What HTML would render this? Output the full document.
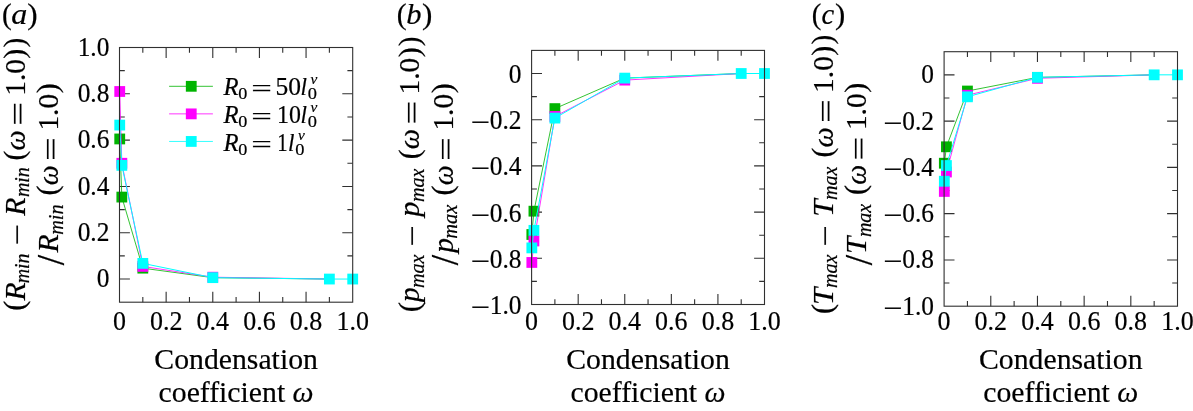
<!DOCTYPE html>
<html><head><meta charset="utf-8"><title>Figure</title>
<style>
html,body{margin:0;padding:0;background:#fff;}
body{width:1193px;height:411px;overflow:hidden;}
svg{display:block;}
text{font-family:"Liberation Serif",serif;fill:#000;stroke:#000;stroke-width:0.2px;}
.tk{font-size:26.6px;}
.xl{font-size:30.2px;}
.it{font-style:italic;}
</style></head><body>
<svg width="1193" height="411" viewBox="0 0 1193 411">
<rect width="1193" height="411" fill="#fff"/>
<path d="M119.50 279.05h10.4M119.50 255.89h5.3M352.70 255.89h-5.3M119.50 232.74h10.4M352.70 232.74h-10.4M119.50 209.58h5.3M352.70 209.58h-5.3M119.50 186.43h10.4M352.70 186.43h-10.4M119.50 163.27h5.3M352.70 163.27h-5.3M119.50 140.12h10.4M352.70 140.12h-10.4M119.50 116.96h5.3M352.70 116.96h-5.3M119.50 93.81h10.4M352.70 93.81h-10.4M119.50 70.65h5.3M352.70 70.65h-5.3M142.82 302.20v-5.3M142.82 47.50v5.3M166.14 302.20v-10.4M166.14 47.50v10.4M189.46 302.20v-5.3M189.46 47.50v5.3M212.78 302.20v-10.4M212.78 47.50v10.4M236.10 302.20v-5.3M236.10 47.50v5.3M259.42 302.20v-10.4M259.42 47.50v10.4M282.74 302.20v-5.3M282.74 47.50v5.3M306.06 302.20v-10.4M306.06 47.50v10.4M329.38 302.20v-5.3M329.38 47.50v5.3" stroke="#303030" stroke-width="1.1" fill="none"/>
<polyline points="119.73,138.96 121.83,197.08 142.82,268.16 212.78,277.66 329.38,279.05" stroke="#00b400" stroke-width="0.8" fill="none"/>
<rect x="114.33" y="133.56" width="10.8" height="10.8" fill="#00b400"/>
<rect x="116.43" y="191.68" width="10.8" height="10.8" fill="#00b400"/>
<rect x="137.42" y="262.76" width="10.8" height="10.8" fill="#00b400"/>
<polyline points="119.73,91.49 121.83,163.27 142.82,266.40 212.78,277.19 329.38,279.05" stroke="#ff00ff" stroke-width="0.8" fill="none"/>
<rect x="114.33" y="86.09" width="10.8" height="10.8" fill="#ff00ff"/>
<rect x="116.43" y="157.87" width="10.8" height="10.8" fill="#ff00ff"/>
<rect x="137.42" y="261.00" width="10.8" height="10.8" fill="#ff00ff"/>
<rect x="207.38" y="271.79" width="10.8" height="10.8" fill="#ff00ff"/>
<polyline points="119.73,125.07 121.83,165.36 142.82,263.39 212.78,277.66 329.38,279.05 352.70,279.05" stroke="#00ffff" stroke-width="1.0" fill="none"/>
<rect x="114.33" y="119.67" width="10.8" height="10.8" fill="#00ffff"/>
<rect x="116.43" y="159.96" width="10.8" height="10.8" fill="#00ffff"/>
<rect x="137.42" y="257.99" width="10.8" height="10.8" fill="#00ffff"/>
<rect x="207.38" y="272.26" width="10.8" height="10.8" fill="#00ffff"/>
<rect x="323.98" y="273.65" width="10.8" height="10.8" fill="#00ffff"/>
<rect x="347.30" y="273.65" width="10.8" height="10.8" fill="#00ffff"/>
<rect x="119.50" y="47.50" width="233.20" height="254.70" stroke="#303030" stroke-width="1.1" fill="none"/>
<text transform="translate(109.40,55.70) scale(0.955,1)" text-anchor="end" class="tk">1.0</text>
<text transform="translate(109.40,102.01) scale(0.955,1)" text-anchor="end" class="tk">0.8</text>
<text transform="translate(109.40,148.32) scale(0.955,1)" text-anchor="end" class="tk">0.6</text>
<text transform="translate(109.40,194.63) scale(0.955,1)" text-anchor="end" class="tk">0.4</text>
<text transform="translate(109.40,240.94) scale(0.955,1)" text-anchor="end" class="tk">0.2</text>
<text transform="translate(109.40,287.25) scale(0.955,1)" text-anchor="end" class="tk">0</text>
<text transform="translate(119.50,329.9) scale(0.977,1)" text-anchor="middle" class="tk">0</text>
<text transform="translate(166.14,329.9) scale(0.977,1)" text-anchor="middle" class="tk">0.2</text>
<text transform="translate(212.78,329.9) scale(0.977,1)" text-anchor="middle" class="tk">0.4</text>
<text transform="translate(259.42,329.9) scale(0.977,1)" text-anchor="middle" class="tk">0.6</text>
<text transform="translate(306.06,329.9) scale(0.977,1)" text-anchor="middle" class="tk">0.8</text>
<text transform="translate(352.70,329.9) scale(0.977,1)" text-anchor="middle" class="tk">1.0</text>
<text transform="translate(236.10,369.4) scale(0.985,1)" text-anchor="middle" class="xl">Condensation</text>
<text transform="translate(236.10,402.4) scale(0.985,1)" text-anchor="middle" class="xl">coefficient <tspan class="it">ω</tspan></text>
<path d="M531.60 281.40h5.3M764.50 281.40h-5.3M531.60 258.30h10.4M764.50 258.30h-10.4M531.60 235.20h5.3M764.50 235.20h-5.3M531.60 212.10h10.4M764.50 212.10h-10.4M531.60 189.00h5.3M764.50 189.00h-5.3M531.60 165.90h10.4M764.50 165.90h-10.4M531.60 142.80h5.3M764.50 142.80h-5.3M531.60 119.70h10.4M764.50 119.70h-10.4M531.60 96.60h5.3M764.50 96.60h-5.3M531.60 73.50h10.4M554.89 304.50v-5.3M554.89 50.40v5.3M578.18 304.50v-10.4M578.18 50.40v10.4M601.47 304.50v-5.3M601.47 50.40v5.3M624.76 304.50v-10.4M624.76 50.40v10.4M648.05 304.50v-5.3M648.05 50.40v5.3M671.34 304.50v-10.4M671.34 50.40v10.4M694.63 304.50v-5.3M694.63 50.40v5.3M717.92 304.50v-10.4M717.92 50.40v10.4M741.21 304.50v-5.3M741.21 50.40v5.3" stroke="#303030" stroke-width="1.1" fill="none"/>
<polyline points="531.83,234.51 533.93,211.18 554.89,108.61 624.76,78.12 741.21,73.50" stroke="#00b400" stroke-width="0.8" fill="none"/>
<rect x="526.43" y="229.11" width="10.8" height="10.8" fill="#00b400"/>
<rect x="528.53" y="205.78" width="10.8" height="10.8" fill="#00b400"/>
<rect x="549.49" y="103.21" width="10.8" height="10.8" fill="#00b400"/>
<polyline points="531.83,262.46 533.93,240.97 554.89,116.47 624.76,80.11 741.21,73.50" stroke="#ff00ff" stroke-width="0.8" fill="none"/>
<rect x="526.43" y="257.06" width="10.8" height="10.8" fill="#ff00ff"/>
<rect x="528.53" y="235.57" width="10.8" height="10.8" fill="#ff00ff"/>
<rect x="549.49" y="111.07" width="10.8" height="10.8" fill="#ff00ff"/>
<rect x="619.36" y="74.71" width="10.8" height="10.8" fill="#ff00ff"/>
<polyline points="531.83,247.90 533.93,230.35 554.89,118.08 624.76,78.12 741.21,73.50 764.50,73.50" stroke="#00ffff" stroke-width="1.0" fill="none"/>
<rect x="526.43" y="242.50" width="10.8" height="10.8" fill="#00ffff"/>
<rect x="528.53" y="224.95" width="10.8" height="10.8" fill="#00ffff"/>
<rect x="549.49" y="112.68" width="10.8" height="10.8" fill="#00ffff"/>
<rect x="619.36" y="72.72" width="10.8" height="10.8" fill="#00ffff"/>
<rect x="735.81" y="68.10" width="10.8" height="10.8" fill="#00ffff"/>
<rect x="759.10" y="68.10" width="10.8" height="10.8" fill="#00ffff"/>
<rect x="531.60" y="50.40" width="232.90" height="254.10" stroke="#303030" stroke-width="1.1" fill="none"/>
<text transform="translate(521.50,82.90) scale(0.955,1)" text-anchor="end" class="tk">0</text>
<text transform="translate(521.50,129.10) scale(0.955,1)" text-anchor="end" class="tk">0.2</text>
<text transform="translate(470.39,131.20) scale(1.2811,1)" class="tk">−</text>
<text transform="translate(521.50,175.30) scale(0.955,1)" text-anchor="end" class="tk">0.4</text>
<text transform="translate(470.39,177.40) scale(1.2811,1)" class="tk">−</text>
<text transform="translate(521.50,221.50) scale(0.955,1)" text-anchor="end" class="tk">0.6</text>
<text transform="translate(470.39,223.60) scale(1.2811,1)" class="tk">−</text>
<text transform="translate(521.50,267.70) scale(0.955,1)" text-anchor="end" class="tk">0.8</text>
<text transform="translate(470.39,269.80) scale(1.2811,1)" class="tk">−</text>
<text transform="translate(521.50,313.90) scale(0.955,1)" text-anchor="end" class="tk">1.0</text>
<text transform="translate(470.39,316.00) scale(1.2811,1)" class="tk">−</text>
<text transform="translate(531.60,329.9) scale(0.977,1)" text-anchor="middle" class="tk">0</text>
<text transform="translate(578.18,329.9) scale(0.977,1)" text-anchor="middle" class="tk">0.2</text>
<text transform="translate(624.76,329.9) scale(0.977,1)" text-anchor="middle" class="tk">0.4</text>
<text transform="translate(671.34,329.9) scale(0.977,1)" text-anchor="middle" class="tk">0.6</text>
<text transform="translate(717.92,329.9) scale(0.977,1)" text-anchor="middle" class="tk">0.8</text>
<text transform="translate(764.50,329.9) scale(0.977,1)" text-anchor="middle" class="tk">1.0</text>
<text transform="translate(648.05,369.4) scale(0.985,1)" text-anchor="middle" class="xl">Condensation</text>
<text transform="translate(648.05,402.4) scale(0.985,1)" text-anchor="middle" class="xl">coefficient <tspan class="it">ω</tspan></text>
<path d="M944.10 283.06h5.3M1177.50 283.06h-5.3M944.10 259.93h10.4M1177.50 259.93h-10.4M944.10 236.79h5.3M1177.50 236.79h-5.3M944.10 213.65h10.4M1177.50 213.65h-10.4M944.10 190.52h5.3M1177.50 190.52h-5.3M944.10 167.38h6.0M1177.50 167.38h-10.4M944.10 144.25h5.3M1177.50 144.25h-5.3M944.10 121.11h10.4M1177.50 121.11h-10.4M944.10 97.97h5.3M1177.50 97.97h-5.3M944.10 74.84h10.4M967.44 306.20v-5.3M967.44 51.70v5.3M990.78 306.20v-10.4M990.78 51.70v10.4M1014.12 306.20v-5.3M1014.12 51.70v5.3M1037.46 306.20v-10.4M1037.46 51.70v10.4M1060.80 306.20v-5.3M1060.80 51.70v5.3M1084.14 306.20v-10.4M1084.14 51.70v10.4M1107.48 306.20v-5.3M1107.48 51.70v5.3M1130.82 306.20v-10.4M1130.82 51.70v10.4M1154.16 306.20v-5.3M1154.16 51.70v5.3" stroke="#303030" stroke-width="1.1" fill="none"/>
<polyline points="944.33,163.22 946.43,146.79 967.44,91.03 1037.46,77.38 1154.16,74.84" stroke="#00b400" stroke-width="0.8" fill="none"/>
<rect x="938.93" y="157.82" width="10.8" height="10.8" fill="#00b400"/>
<rect x="941.03" y="141.39" width="10.8" height="10.8" fill="#00b400"/>
<rect x="962.04" y="85.63" width="10.8" height="10.8" fill="#00b400"/>
<rect x="1032.06" y="71.98" width="10.8" height="10.8" fill="#00b400"/>
<polyline points="944.33,191.44 946.43,172.01 967.44,95.20 1037.46,78.31 1154.16,74.84" stroke="#ff00ff" stroke-width="0.8" fill="none"/>
<rect x="938.93" y="186.04" width="10.8" height="10.8" fill="#ff00ff"/>
<rect x="941.03" y="166.61" width="10.8" height="10.8" fill="#ff00ff"/>
<rect x="962.04" y="89.80" width="10.8" height="10.8" fill="#ff00ff"/>
<rect x="1032.06" y="72.91" width="10.8" height="10.8" fill="#ff00ff"/>
<polyline points="944.33,181.26 946.43,165.53 967.44,96.82 1037.46,77.34 1154.16,74.84 1177.50,74.84" stroke="#00ffff" stroke-width="1.0" fill="none"/>
<rect x="938.93" y="175.86" width="10.8" height="10.8" fill="#00ffff"/>
<rect x="941.03" y="160.13" width="10.8" height="10.8" fill="#00ffff"/>
<rect x="962.04" y="91.42" width="10.8" height="10.8" fill="#00ffff"/>
<rect x="1032.06" y="71.94" width="10.8" height="10.8" fill="#00ffff"/>
<rect x="1148.76" y="69.44" width="10.8" height="10.8" fill="#00ffff"/>
<rect x="1172.10" y="69.44" width="10.8" height="10.8" fill="#00ffff"/>
<rect x="944.10" y="51.70" width="233.40" height="254.50" stroke="#303030" stroke-width="1.1" fill="none"/>
<text transform="translate(934.00,83.24) scale(0.955,1)" text-anchor="end" class="tk">0</text>
<text transform="translate(934.00,129.51) scale(0.955,1)" text-anchor="end" class="tk">0.2</text>
<text transform="translate(882.89,131.61) scale(1.2811,1)" class="tk">−</text>
<text transform="translate(934.00,175.78) scale(0.955,1)" text-anchor="end" class="tk">0.4</text>
<text transform="translate(882.89,177.88) scale(1.2811,1)" class="tk">−</text>
<text transform="translate(934.00,222.05) scale(0.955,1)" text-anchor="end" class="tk">0.6</text>
<text transform="translate(882.89,224.15) scale(1.2811,1)" class="tk">−</text>
<text transform="translate(934.00,268.33) scale(0.955,1)" text-anchor="end" class="tk">0.8</text>
<text transform="translate(882.89,270.43) scale(1.2811,1)" class="tk">−</text>
<text transform="translate(934.00,314.60) scale(0.955,1)" text-anchor="end" class="tk">1.0</text>
<text transform="translate(882.89,316.70) scale(1.2811,1)" class="tk">−</text>
<text transform="translate(944.10,329.9) scale(0.977,1)" text-anchor="middle" class="tk">0</text>
<text transform="translate(990.78,329.9) scale(0.977,1)" text-anchor="middle" class="tk">0.2</text>
<text transform="translate(1037.46,329.9) scale(0.977,1)" text-anchor="middle" class="tk">0.4</text>
<text transform="translate(1084.14,329.9) scale(0.977,1)" text-anchor="middle" class="tk">0.6</text>
<text transform="translate(1130.82,329.9) scale(0.977,1)" text-anchor="middle" class="tk">0.8</text>
<text transform="translate(1177.50,329.9) scale(0.977,1)" text-anchor="middle" class="tk">1.0</text>
<text transform="translate(1060.80,369.4) scale(0.985,1)" text-anchor="middle" class="xl">Condensation</text>
<text transform="translate(1060.80,402.4) scale(0.985,1)" text-anchor="middle" class="xl">coefficient <tspan class="it">ω</tspan></text>
<text transform="translate(2.12,23.65) scale(1.0246,1)" font-size="28.5">(</text>
<text transform="translate(11.24,24.30) scale(1.0710,1)" font-size="30" font-style="italic">a</text>
<text transform="translate(27.20,23.65) scale(1.0929,1)" font-size="28.5">)</text>
<text transform="translate(396.70,23.65) scale(1.0383,1)" font-size="28.5">(</text>
<text transform="translate(406.37,24.30) scale(1.0171,1)" font-size="30" font-style="italic">b</text>
<text transform="translate(421.90,23.65) scale(1.0929,1)" font-size="28.5">)</text>
<text transform="translate(811.73,23.65) scale(1.0110,1)" font-size="28.5">(</text>
<text transform="translate(821.62,24.30) scale(0.9528,1)" font-size="30" font-style="italic">c</text>
<text transform="translate(835.01,23.65) scale(1.0793,1)" font-size="28.5">)</text>
<path d="M169.1 86.30H212.9" stroke="#00b400" stroke-width="0.8"/>
<rect x="185.85" y="80.90" width="10.8" height="10.8" fill="#00b400"/>
<text transform="translate(223.43,94.60) scale(0.9873,1)" font-size="25" font-style="italic">R</text>
<text transform="translate(238.21,99.00) scale(1.0687,1)" font-size="17">0</text>
<text transform="translate(251.18,97.25) scale(1.4051,1)" font-size="26">=</text>
<text transform="translate(275.41,94.60) scale(0.9830,1)" font-size="26">50</text>
<text transform="translate(300.57,94.60) scale(0.8921,1)" font-size="26" font-style="italic">l</text>
<text transform="translate(310.39,83.70) scale(0.9898,1)" font-size="15.5" font-style="italic">v</text>
<text transform="translate(307.70,99.00) scale(1.0826,1)" font-size="17">0</text>
<path d="M169.1 113.87H212.9" stroke="#ff00ff" stroke-width="0.8"/>
<rect x="185.85" y="108.47" width="10.8" height="10.8" fill="#ff00ff"/>
<text transform="translate(223.43,122.60) scale(0.9873,1)" font-size="25" font-style="italic">R</text>
<text transform="translate(238.21,127.00) scale(1.0687,1)" font-size="17">0</text>
<text transform="translate(251.18,125.25) scale(1.4051,1)" font-size="26">=</text>
<text transform="translate(277.00,122.60) scale(0.9197,1)" font-size="26">10</text>
<text transform="translate(300.57,122.60) scale(0.8921,1)" font-size="26" font-style="italic">l</text>
<text transform="translate(310.39,111.70) scale(0.9898,1)" font-size="15.5" font-style="italic">v</text>
<text transform="translate(307.70,127.00) scale(1.0826,1)" font-size="17">0</text>
<path d="M169.1 141.44H212.9" stroke="#00ffff" stroke-width="0.8"/>
<rect x="185.85" y="136.04" width="10.8" height="10.8" fill="#00ffff"/>
<text transform="translate(223.43,150.60) scale(0.9873,1)" font-size="25" font-style="italic">R</text>
<text transform="translate(238.21,155.00) scale(1.0687,1)" font-size="17">0</text>
<text transform="translate(251.18,153.25) scale(1.4051,1)" font-size="26">=</text>
<text transform="translate(277.28,150.60) scale(0.7975,1)" font-size="26">1</text>
<text transform="translate(288.07,150.60) scale(0.8921,1)" font-size="26" font-style="italic">l</text>
<text transform="translate(297.89,139.70) scale(0.9898,1)" font-size="15.5" font-style="italic">v</text>
<text transform="translate(295.20,155.00) scale(1.0826,1)" font-size="17">0</text>
<text transform="translate(24.70,0) rotate(-90) translate(-310.63,-0.80) scale(1.0656,1)" font-size="28.5">(</text>
<text transform="translate(24.70,0) rotate(-90) translate(-300.44,0.00) scale(0.9895,1)" font-size="30" font-style="italic">R</text>
<text transform="translate(24.70,0) rotate(-90) translate(-283.32,4.60) scale(0.9475,1)" font-size="21" font-style="italic">min</text>
<text transform="translate(24.70,0) rotate(-90) translate(-244.98,2.30) scale(1.2607,1)" font-size="30">−</text>
<text transform="translate(24.70,0) rotate(-90) translate(-215.74,0.00) scale(0.9895,1)" font-size="30" font-style="italic">R</text>
<text transform="translate(24.70,0) rotate(-90) translate(-197.12,4.60) scale(0.9508,1)" font-size="21" font-style="italic">min</text>
<text transform="translate(24.70,0) rotate(-90) translate(-160.52,-0.80) scale(1.0519,1)" font-size="28.5">(</text>
<text transform="translate(24.70,0) rotate(-90) translate(-150.45,0.00) scale(0.9540,1)" font-size="30" font-style="italic">ω</text>
<text transform="translate(24.70,0) rotate(-90) translate(-125.81,2.90) scale(1.4148,1)" font-size="30">=</text>
<text transform="translate(24.70,0) rotate(-90) translate(-95.78,0.00) scale(0.9786,1)" font-size="30">1.0</text>
<text transform="translate(24.70,0) rotate(-90) translate(-58.67,-0.80) scale(1.0519,1)" font-size="28.5">)</text>
<text transform="translate(24.70,0) rotate(-90) translate(-47.45,-0.80) scale(1.0314,1)" font-size="28.5">)</text>
<text transform="translate(58.20,0) rotate(-90) translate(-265.30,5.50) scale(0.9598,1)" font-size="39">/</text>
<text transform="translate(58.20,0) rotate(-90) translate(-252.54,0.00) scale(0.9895,1)" font-size="30" font-style="italic">R</text>
<text transform="translate(58.20,0) rotate(-90) translate(-234.83,4.60) scale(0.9625,1)" font-size="21" font-style="italic">min</text>
<text transform="translate(58.20,0) rotate(-90) translate(-195.43,-0.80) scale(1.0656,1)" font-size="28.5">(</text>
<text transform="translate(58.20,0) rotate(-90) translate(-185.23,0.00) scale(0.9381,1)" font-size="30" font-style="italic">ω</text>
<text transform="translate(58.20,0) rotate(-90) translate(-160.91,2.90) scale(1.4148,1)" font-size="30">=</text>
<text transform="translate(58.20,0) rotate(-90) translate(-130.58,0.00) scale(0.9786,1)" font-size="30">1.0</text>
<text transform="translate(58.20,0) rotate(-90) translate(-93.37,-0.80) scale(1.0519,1)" font-size="28.5">)</text>
<text transform="translate(419.40,0) rotate(-90) translate(-312.27,-0.80) scale(1.0929,1)" font-size="28.5">(</text>
<text transform="translate(419.40,0) rotate(-90) translate(-302.08,0.00) scale(0.9779,1)" font-size="30" font-style="italic">p</text>
<text transform="translate(419.40,0) rotate(-90) translate(-288.03,4.60) scale(0.9597,1)" font-size="21" font-style="italic">max</text>
<text transform="translate(419.40,0) rotate(-90) translate(-246.28,2.30) scale(1.2607,1)" font-size="30">−</text>
<text transform="translate(419.40,0) rotate(-90) translate(-216.74,0.00) scale(1.0032,1)" font-size="30" font-style="italic">p</text>
<text transform="translate(419.40,0) rotate(-90) translate(-201.93,4.60) scale(0.9567,1)" font-size="21" font-style="italic">max</text>
<text transform="translate(419.40,0) rotate(-90) translate(-159.22,-0.80) scale(1.0519,1)" font-size="28.5">(</text>
<text transform="translate(419.40,0) rotate(-90) translate(-149.15,0.00) scale(0.9540,1)" font-size="30" font-style="italic">ω</text>
<text transform="translate(419.40,0) rotate(-90) translate(-124.51,2.90) scale(1.4148,1)" font-size="30">=</text>
<text transform="translate(419.40,0) rotate(-90) translate(-94.48,0.00) scale(0.9786,1)" font-size="30">1.0</text>
<text transform="translate(419.40,0) rotate(-90) translate(-57.37,-0.80) scale(1.0519,1)" font-size="28.5">)</text>
<text transform="translate(419.40,0) rotate(-90) translate(-46.15,-0.80) scale(1.0314,1)" font-size="28.5">)</text>
<text transform="translate(452.70,0) rotate(-90) translate(-265.30,5.50) scale(0.9598,1)" font-size="39">/</text>
<text transform="translate(452.70,0) rotate(-90) translate(-252.77,0.00) scale(0.9843,1)" font-size="30" font-style="italic">p</text>
<text transform="translate(452.70,0) rotate(-90) translate(-238.64,4.60) scale(0.9714,1)" font-size="21" font-style="italic">max</text>
<text transform="translate(452.70,0) rotate(-90) translate(-195.43,-0.80) scale(1.0656,1)" font-size="28.5">(</text>
<text transform="translate(452.70,0) rotate(-90) translate(-185.23,0.00) scale(0.9381,1)" font-size="30" font-style="italic">ω</text>
<text transform="translate(452.70,0) rotate(-90) translate(-160.91,2.90) scale(1.4148,1)" font-size="30">=</text>
<text transform="translate(452.70,0) rotate(-90) translate(-130.58,0.00) scale(0.9786,1)" font-size="30">1.0</text>
<text transform="translate(452.70,0) rotate(-90) translate(-93.37,-0.80) scale(1.0519,1)" font-size="28.5">)</text>
<text transform="translate(832.70,0) rotate(-90) translate(-313.93,-0.80) scale(1.0656,1)" font-size="28.5">(</text>
<text transform="translate(832.70,0) rotate(-90) translate(-304.93,0.00) scale(1.0367,1)" font-size="30" font-style="italic">T</text>
<text transform="translate(832.70,0) rotate(-90) translate(-288.03,4.60) scale(0.9597,1)" font-size="21" font-style="italic">max</text>
<text transform="translate(832.70,0) rotate(-90) translate(-246.28,2.30) scale(1.2607,1)" font-size="30">−</text>
<text transform="translate(832.70,0) rotate(-90) translate(-216.63,0.00) scale(1.0367,1)" font-size="30" font-style="italic">T</text>
<text transform="translate(832.70,0) rotate(-90) translate(-200.02,4.60) scale(0.9538,1)" font-size="21" font-style="italic">max</text>
<text transform="translate(832.70,0) rotate(-90) translate(-157.62,-0.80) scale(1.0519,1)" font-size="28.5">(</text>
<text transform="translate(832.70,0) rotate(-90) translate(-147.55,0.00) scale(0.9540,1)" font-size="30" font-style="italic">ω</text>
<text transform="translate(832.70,0) rotate(-90) translate(-122.91,2.90) scale(1.4148,1)" font-size="30">=</text>
<text transform="translate(832.70,0) rotate(-90) translate(-92.88,0.00) scale(0.9786,1)" font-size="30">1.0</text>
<text transform="translate(832.70,0) rotate(-90) translate(-55.77,-0.80) scale(1.0519,1)" font-size="28.5">)</text>
<text transform="translate(832.70,0) rotate(-90) translate(-44.55,-0.80) scale(1.0314,1)" font-size="28.5">)</text>
<text transform="translate(866.20,0) rotate(-90) translate(-265.30,5.50) scale(0.9598,1)" font-size="39">/</text>
<text transform="translate(866.20,0) rotate(-90) translate(-254.03,0.00) scale(1.0367,1)" font-size="30" font-style="italic">T</text>
<text transform="translate(866.20,0) rotate(-90) translate(-237.12,4.60) scale(0.9538,1)" font-size="21" font-style="italic">max</text>
<text transform="translate(866.20,0) rotate(-90) translate(-194.93,-0.80) scale(1.0656,1)" font-size="28.5">(</text>
<text transform="translate(866.20,0) rotate(-90) translate(-184.73,0.00) scale(0.9381,1)" font-size="30" font-style="italic">ω</text>
<text transform="translate(866.20,0) rotate(-90) translate(-160.41,2.90) scale(1.4148,1)" font-size="30">=</text>
<text transform="translate(866.20,0) rotate(-90) translate(-130.08,0.00) scale(0.9786,1)" font-size="30">1.0</text>
<text transform="translate(866.20,0) rotate(-90) translate(-92.87,-0.80) scale(1.0519,1)" font-size="28.5">)</text>
</svg></body></html>
